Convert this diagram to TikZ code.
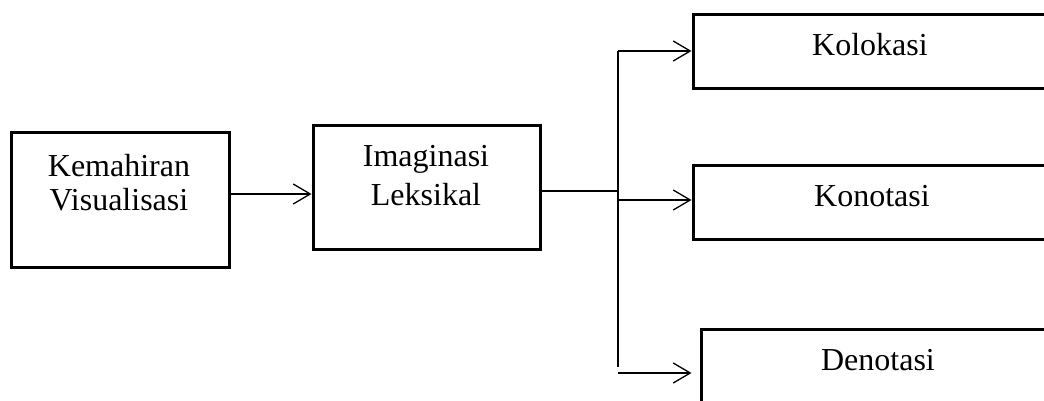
\documentclass[tikz,border=0pt]{standalone}
\usepackage{fontspec}
\setmainfont{Liberation Serif}
\usetikzlibrary{arrows.meta}
\tikzset{
  box/.style={draw=black, line width=3pt, rectangle, inner sep=0pt, fill=none},
  conn/.style={draw=black, line width=1.3pt},
  arr/.style={conn, -{Straight Barb[length=17pt,width=20pt,line width=1.3pt]}},
  txt/.style={anchor=base, inner sep=0pt, font=\fontsize{32}{38}\selectfont}
}
\begin{document}
\begin{tikzpicture}[x=1pt,y=-1pt]
\useasboundingbox (0,0) rectangle (1044,401);
\clip (0,0) rectangle (1044,401);
\fill[white] (0,0) rectangle (1044,401);
% boxes
\node[box, minimum width=218pt, minimum height=134pt] (km) at (120,200) {};
\node[box, minimum width=227pt, minimum height=123pt] (im) at (426.5,187.5) {};
\node[box, minimum width=367pt, minimum height=74pt] (ko) at (876.5,52) {};
\node[box, minimum width=367pt, minimum height=74pt] (kn) at (876.5,202) {};
\node[box, minimum width=359pt, minimum height=101pt] (dn) at (880.5,379.5) {};
% texts
\node[txt] (t1) at (119,176) {Kemahiran};
\node[txt] (t2) at (119,210) {Visualisasi};
\node[txt] (t3) at (426,167) {Imaginasi};
\node[txt] (t4) at (426,205) {Leksikal};
\node[txt] (t5) at (870,56) {Kolokasi};
\node[txt] (t6) at (872,206) {Konotasi};
\node[txt] (t7) at (878,370) {Denotasi};
% junction coordinates
\coordinate (a1) at (0,194);
\coordinate (j) at (618,191);
\coordinate (jt) at (618,51);
\coordinate (jb) at (618,367);
\coordinate (jm) at (618,200);
\coordinate (jd) at (618,373);
% connectors
\draw[arr] (km.east |- a1) -- (im.west |- a1);
\draw[conn] (im.east |- j) -- (j);
\draw[conn] (jt) -- (jb);
\draw[arr] (jt) -- (ko.west |- jt);
\draw[arr] (jm) -- (kn.west |- jm);
\draw[arr, shorten >=8pt] (jd) -- (dn.west |- jd);
\end{tikzpicture}
\end{document}
